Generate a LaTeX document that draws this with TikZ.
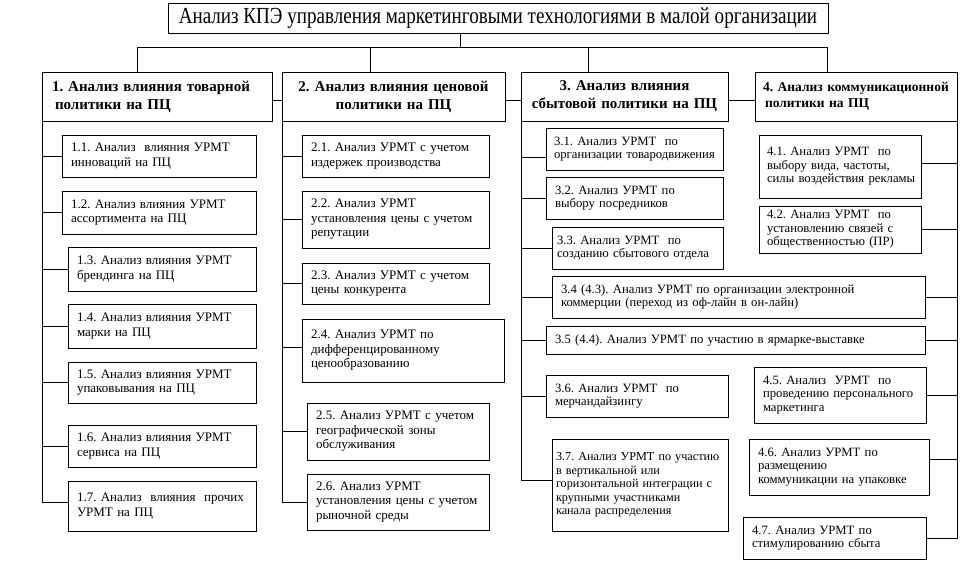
\documentclass[tikz,border=0pt]{standalone}
\usepackage{fontspec}
\setmainfont{Liberation Serif}
\newfontfamily\titlefont{Liberation Serif}[FakeStretch=0.83]
\usetikzlibrary{positioning,calc}
\frenchspacing

\begin{document}
\begin{tikzpicture}[
  x=1pt,y=-1pt,
  every node/.style={inner sep=0pt,outer sep=0pt},
  line width=0.9pt,
  head/.style={rectangle,draw,anchor=north west,minimum width=660pt,minimum height=30pt,font=\titlefont\fontsize{23}{25}\selectfont},
  policy/.style 2 args={rectangle,draw,anchor=north west,inner xsep=10pt,text width=#1pt,minimum height=#2pt,font=\bfseries\fontsize{15}{18}\selectfont},
  item/.style 2 args={rectangle,draw,anchor=north west,inner xsep=9pt,text width=#1pt,minimum height=#2pt,align=left,font=\fontsize{13}{14.5}\selectfont},
  narrow/.style={font=\fontsize{12.7}{13.6}\selectfont}
]
\useasboundingbox (0,0) rectangle (968,567);

\node[head] (top) at (168,3) {Анализ КПЭ управления маркетинговыми технологиями в малой организации};

% policies
\node[policy={210}{49},align=left] (p1) at (42,72) {1. Анализ влияния товарной\\\hspace*{3pt}политики на ПЦ};
\node[policy={203}{49},align=center] (p2) at (282,72) {2. Анализ влияния ценовой\\политики на ПЦ};
\node[policy={187}{49},align=center] (p3) at (521,72) {3. Анализ влияния\\сбытовой политики на ПЦ};
\node[policy={190}{49},inner xsep=6pt,align=left,font=\bfseries\fontsize{13.5}{16}\selectfont] (p4) at (755,72) {\hspace*{2pt}4. Анализ коммуникационной\\\hspace*{4pt}политики на ПЦ\\[-4pt]};

% 1. product
\node[item={176}{42}] (s11) at (62,135) {1.1. Анализ\ \ влияния УРМТ\\инноваций на ПЦ};
\node[item={176}{43}] (s12) at (62,191) {1.2. Анализ влияния УРМТ\\ассортимента на ПЦ};
\node[item={170}{44}] (s13) at (68,247) {1.3. Анализ влияния УРМТ\\брендинга на ПЦ};
\node[item={170}{44}] (s14) at (68,304) {1.4. Анализ влияния УРМТ\\марки на ПЦ};
\node[item={170}{41}] (s15) at (68,362) {1.5. Анализ влияния УРМТ\\упаковывания на ПЦ};
\node[item={170}{42}] (s16) at (68,425) {1.6. Анализ влияния УРМТ\\сервиса на ПЦ};
\node[item={170}{50}] (s17) at (68,481) {1.7. Анализ\ \ влияния\ \ прочих\\УРМТ на ПЦ};

% 2. price
\node[item={169}{42}] (s21) at (302,135) {2.1. Анализ УРМТ с учетом\\издержек производства};
\node[item={169}{57}] (s22) at (302,191) {2.2. Анализ УРМТ\\установления цены с учетом\\репутации};
\node[item={169}{41}] (s23) at (302,263) {2.3. Анализ УРМТ с учетом\\цены конкурента};
\node[item={184}{63}] (s24) at (302,319) {2.4. Анализ УРМТ по\\дифференцированному\\ценообразованию};
\node[item={164}{57}] (s25) at (307,403) {2.5. Анализ УРМТ с учетом\\географической зоны\\обслуживания};
\node[item={164}{56}] (s26) at (307,474) {2.6. Анализ УРМТ\\установления цены с учетом\\рыночной среды};

% 3. distribution
\node[item={165}{42},narrow,inner xsep=6pt] (s31) at (546,128) {\hspace*{2pt}3.1. Анализ УРМТ\ \ по\\\hspace*{2pt}организации товародвижения};
\node[item={159}{42},narrow] (s32) at (546,177) {3.2. Анализ УРМТ по\\выбору посредников};
\node[item={161}{42},narrow,inner xsep=5pt] (s33) at (552,227) {3.3. Анализ УРМТ\ \ по\\созданию сбытового отдела};
\node[item={355}{42},narrow] (s34) at (552,276) {3.4 (4.3). Анализ УРМТ по организации электронной\\коммерции (переход из оф-лайн в он-лайн)};
\node[item={361}{28},narrow] (s35) at (546,326) {3.5 (4.4). Анализ УРМТ по участию в ярмарке-выставке};
\node[item={164}{42},narrow] (s36) at (546,375) {3.6. Анализ УРМТ\ \ по\\мерчандайзингу};
\node[item={168}{92},inner xsep=4pt,font=\fontsize{12.2}{13.4}\selectfont] (s37) at (552,439) {3.7. Анализ УРМТ по участию\\в вертикальной или\\горизонтальной интеграции с\\крупными участниками\\канала распределения};

% 4. communication
\node[item={152}{63},narrow,inner xsep=5pt] (s41) at (759,135) {\hspace*{3pt}4.1. Анализ УРМТ\ \ по\\\hspace*{3pt}выбору вида, частоты,\\\hspace*{3pt}силы воздействия рекламы};
\node[item={152}{47},narrow,inner xsep=5pt] (s42) at (759,206) {\hspace*{3pt}4.2. Анализ УРМТ\ \ по\\\hspace*{3pt}установлению связей с\\\hspace*{3pt}общественностью (ПР)};
\node[item={154}{56},narrow] (s45) at (754,367) {4.5. Анализ\ \ УРМТ\ \ по\\проведению персонального\\маркетинга};
\node[item={162}{56},narrow] (s46) at (749,439) {4.6. Анализ УРМТ по\\размещению\\коммуникации на упаковке};
\node[item={165}{42},narrow] (s47) at (743,517) {4.7. Анализ УРМТ по\\стимулированию сбыта};

% top tree
\coordinate (fork) at (460,47);
\coordinate (d1) at (137,47);
\coordinate (d2) at (370,47);
\coordinate (d3) at (588,47);
\coordinate (d4) at (827,47);
\draw (fork) -- (fork |- top.south);
\draw (d1) -- (d4);
\draw (d1) -- (d1 |- p1.north);
\draw (d2) -- (d2 |- p2.north);
\draw (d3) -- (d3 |- p3.north);
\draw (d4) -- (d4 |- p4.north);

\draw ([yshift=-4pt]p1.east) -- ([yshift=-4pt]p2.west);
\draw ([yshift=-4pt]p2.east) -- ([yshift=-4pt]p3.west);
\draw ([yshift=-4pt]p3.east) -- ([yshift=-4pt]p4.west);

% column trunks
\draw (p1.south west) |- (s11.west);
\draw (p1.south west) |- (s12.west);
\draw (p1.south west) |- (s13.west);
\draw (p1.south west) |- (s14.west);
\draw (p1.south west) |- (s15.west);
\draw (p1.south west) |- (s16.west);
\draw (p1.south west) |- ([yshift=4pt]s17.west);

\draw (p2.south west) |- (s21.west);
\draw (p2.south west) |- (s22.west);
\draw (p2.south west) |- (s23.west);
\draw (p2.south west) |- ([yshift=3pt]s24.west);
\draw (p2.south west) |- (s25.west);
\draw (p2.south west) |- (s26.west);

\draw (p3.south west) |- ([yshift=-8pt]s31.west);
\draw (p3.south west) |- (s32.west);
\draw (p3.south west) |- (s33.west);
\draw (p3.south west) |- (s34.west);
\draw (p3.south west) |- (s35.west);
\draw (p3.south west) |- (s36.west);
\draw (p3.south west) |- ([yshift=5pt]s37.west);

\draw (p4.south east) |- ([yshift=3pt]s41.east);
\draw (p4.south east) |- (s42.east);
\draw (p4.south east) |- (s34.east);
\draw (p4.south east) |- (s35.east);
\draw (p4.south east) |- (s45.east);
\draw (p4.south east) |- ([yshift=8pt]s46.east);
\draw (p4.south east) |- (s47.east);
\end{tikzpicture}
\end{document}
